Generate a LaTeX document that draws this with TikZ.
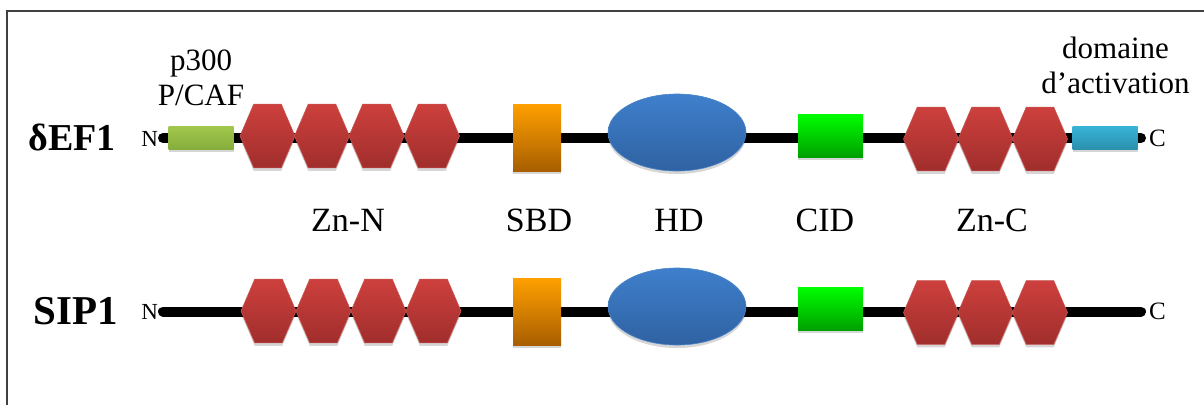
\documentclass[tikz,border=0pt]{standalone}
\usepackage{fontspec}
\setmainfont{Liberation Serif}
\usetikzlibrary{shapes.geometric,shadows}
\begin{document}
\begin{tikzpicture}[x=1pt,y=-1pt,
  every node/.style={inner sep=0pt,outer sep=0pt},
  softshadow/.style={drop shadow={shadow xshift=0pt,shadow yshift=-3pt,opacity=.16,fill=black}},
  backbone/.style={line width=10pt,line cap=round,black},
  zinc/.style={regular polygon,regular polygon sides=6,minimum size=55pt,
    yscale=1.34,transform shape,top color=zntop,bottom color=znbot,
    draw=znedge,line width=0.6pt,softshadow},
  sbd/.style={rectangle,minimum width=48pt,minimum height=67pt,
    top color=sbdtop,bottom color=sbdbot,softshadow},
  hd/.style={ellipse,minimum width=138pt,minimum height=77pt,
    top color=hdtop,bottom color=hdbot,draw=hdedge,line width=0.6pt,softshadow},
  cid/.style={rectangle,minimum width=65pt,minimum height=43pt,
    top color=cidtop,bottom color=cidbot,softshadow},
  p300/.style={rectangle,minimum width=65pt,minimum height=23pt,
    top color=p3top,bottom color=p3bot,softshadow},
  actd/.style={rectangle,minimum width=65pt,minimum height=23pt,
    top color=actop,bottom color=acbot,softshadow},
  protein/.style={font=\bfseries\fontsize{38}{42}\selectfont},
  term/.style={font=\fontsize{23}{26}\selectfont},
  cterm/.style={font=\fontsize{25}{28}\selectfont},
  toplabel/.style={font=\fontsize{31}{35}\selectfont,align=center},
  domlabel/.style={font=\fontsize{34}{38}\selectfont},
]
\definecolor{zntop}{HTML}{CD403D}
\definecolor{znbot}{HTML}{A02E2C}
\definecolor{znedge}{HTML}{C65552}
\definecolor{sbdtop}{HTML}{FFA000}
\definecolor{sbdbot}{HTML}{A85E00}
\definecolor{hdtop}{HTML}{3F7FCC}
\definecolor{hdbot}{HTML}{2F62A2}
\definecolor{hdedge}{HTML}{4A84C8}
\definecolor{cidtop}{HTML}{00FF00}
\definecolor{cidbot}{HTML}{00A000}
\definecolor{p3top}{HTML}{A2C74C}
\definecolor{p3bot}{HTML}{86AE3C}
\definecolor{actop}{HTML}{38B4D6}
\definecolor{acbot}{HTML}{2B90AE}
\definecolor{frame}{HTML}{404040}

\useasboundingbox (0,0) rectangle (1204,405);

% open frame: left and top edges
\coordinate (fbl) at (7,405);
\coordinate (ftl) at (7,11);
\coordinate (ftr) at (1204,11);
\draw[frame,line width=2pt] (fbl) -- (ftl) -- (ftr);

% ---------------- deltaEF1 ----------------
\node[protein] (pname1) at (72,137) {δEF1};
\coordinate (n1) at (163,138);
\coordinate (c1) at (1141,138);
\draw[backbone] (n1) -- (c1);
\node[term,anchor=east] (nt1) at (158,139) {N};
\node[cterm,anchor=west] (ct1) at (1149,138) {C};

\node[p300] (pc1) at (201,137.5) {};
\node[zinc] (zn1a) at (267.5,136) {};
\node[zinc] (zn1b) at (322,136) {};
\node[zinc] (zn1c) at (376.5,136) {};
\node[zinc] (zn1d) at (432,136) {};
\node[sbd] (sbd1) at (537,137.5) {};
\node[hd] (hd1) at (677,132.5) {};
\node[cid] (cid1) at (830.5,135.5) {};
\node[zinc] (zc1a) at (931,139) {};
\node[zinc] (zc1b) at (985.5,139) {};
\node[zinc] (zc1c) at (1040,139) {};
\node[actd] (ad1) at (1105,137.5) {};

\node[toplabel] (lp300) at (201,78) {p300\\P/CAF};
\node[toplabel] (lact) at (1115.5,65) {domaine\\d’activation};

% domain labels between the two rows
\node[domlabel,anchor=base] (lzn) at (348,231) {Zn-N};
\node[domlabel,anchor=base] (lsbd) at (539,231) {SBD};
\node[domlabel,anchor=base] (lhd) at (679,231) {HD};
\node[domlabel,anchor=base] (lcid) at (825,231) {CID};
\node[domlabel,anchor=base] (lzc) at (992,231) {Zn-C};

% ---------------- SIP1 ----------------
\node[protein,font=\bfseries\fontsize{41}{44}\selectfont] (pname2) at (76,311) {SIP1};
\coordinate (n2) at (163,311.5);
\coordinate (c2) at (1141,311.5);
\draw[backbone] (n2) -- (c2);
\node[term,anchor=east] (nt2) at (158,312) {N};
\node[cterm,anchor=west] (ct2) at (1149,311.5) {C};

\node[zinc] (zn2a) at (268.5,311) {};
\node[zinc] (zn2b) at (323.5,311) {};
\node[zinc] (zn2c) at (378.5,311) {};
\node[zinc] (zn2d) at (433.5,311) {};
\node[sbd] (sbd2) at (537,311.5) {};
\node[hd] (hd2) at (677,306.5) {};
\node[cid] (cid2) at (830.5,308.5) {};
\node[zinc] (zc2a) at (931,312.5) {};
\node[zinc] (zc2b) at (985.5,312.5) {};
\node[zinc] (zc2c) at (1040,312.5) {};
\end{tikzpicture}
\end{document}
